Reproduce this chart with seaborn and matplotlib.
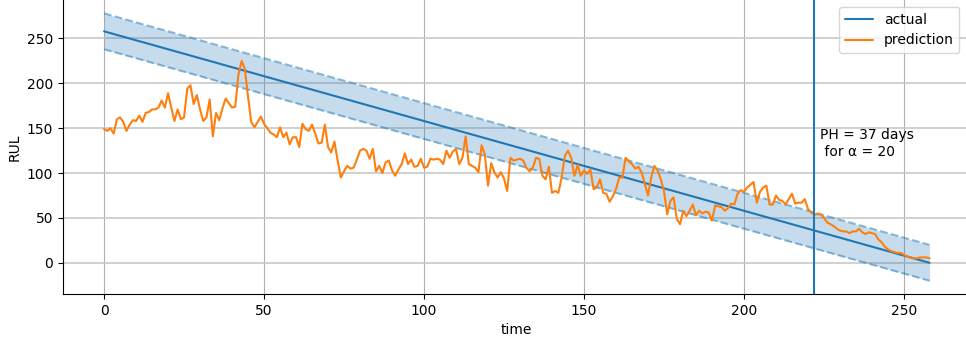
import numpy as np
import pandas as pd
import seaborn as sns
import matplotlib.pyplot as plt

# time axis and true remaining useful life
time = list(range(259))
actual = [258 - t for t in time]

# predicted RUL
prediction = [
    149, 147, 150, 144, 160, 162, 157, 147, 154, 159,
    158, 164, 157, 167, 168, 171, 171, 173, 181, 173,
    189, 173, 158, 171, 160, 162, 194, 198, 177, 187,
    171, 158, 162, 182, 141, 167, 159, 172, 183, 178,
    173, 174, 210, 225, 216, 185, 157, 151, 157, 163,
    155, 150, 145, 143, 140, 151, 140, 145, 132, 140,
    140, 129, 155, 149, 147, 154, 144, 133, 134, 154,
    129, 123, 135, 114, 95, 102, 108, 105, 106, 115,
    125, 127, 125, 116, 127, 102, 108, 100, 112, 114,
    103, 97, 104, 110, 122, 110, 115, 107, 108, 116,
    106, 107, 116, 115, 116, 115, 110, 125, 117, 124,
    127, 110, 117, 141, 110, 108, 106, 101, 131, 121,
    86, 111, 101, 95, 101, 94, 80, 117, 114, 115,
    116, 114, 106, 102, 106, 117, 116, 97, 93, 107,
    78, 80, 78, 95, 119, 125, 117, 97, 109, 97,
    103, 99, 104, 82, 84, 93, 78, 77, 68, 74,
    82, 95, 95, 117, 113, 110, 105, 107, 101, 88,
    75, 95, 108, 103, 93, 80, 54, 69, 73, 49,
    43, 58, 52, 58, 65, 53, 58, 55, 57, 56,
    47, 64, 63, 62, 58, 61, 66, 65, 77, 81,
    79, 84, 87, 90, 67, 79, 84, 86, 65, 65,
    75, 70, 69, 65, 71, 77, 66, 67, 67, 71,
    60, 56, 54, 54, 54, 50, 45, 43, 41, 38,
    36, 35, 35, 33, 35, 35, 38, 34, 32, 34,
    33, 32, 26, 23, 18, 15, 13, 12, 11, 11,
    9, 7, 6, 5, 5, 6, 6, 6, 5,
]

alpha = 20
ph_time = 222
ph_label = 'PH = 37 days\n for α = 20'

df = pd.DataFrame({'time': time, 'actual': actual, 'prediction': prediction})
df['upper'] = df['actual'] + alpha
df['lower'] = df['actual'] - alpha

sns.set_style('ticks')
plt.rcParams['font.family'] = ['DejaVu Sans']
plt.rcParams.update({'text.color': 'black', 'axes.labelcolor': 'black',
                     'xtick.color': 'black', 'ytick.color': 'black',
                     'axes.edgecolor': 'black'})

fig, ax = plt.subplots(figsize=(9.66, 3.42), dpi=100)
fig.subplots_adjust(left=0.065, right=1.005, top=1.0, bottom=0.14)

ax.fill_between(df['time'], df['lower'], df['upper'], color='#1f77b4', alpha=0.25, linewidth=0)
ax.plot(df['time'], df['upper'], '--', color='#1f77b4', alpha=0.5)
ax.plot(df['time'], df['lower'], '--', color='#1f77b4', alpha=0.5)

sns.lineplot(data=df, x='time', y='actual', color='#1f77b4', label='actual', ax=ax)
sns.lineplot(data=df, x='time', y='prediction', color='#ff7f0e', label='prediction', ax=ax)

ax.axvline(ph_time, color='#1f77b4')
ax.text(ph_time + 1.8, 133, ph_label, va='center', ha='left', fontsize=10)

ax.set_xlabel('time')
ax.set_ylabel('RUL')
ax.set_yticks([0, 50, 100, 150, 200, 250])
ax.set_xticks([0, 50, 100, 150, 200, 250])
ax.xaxis.grid(True, color='#b0b0b0', linewidth=0.8)
ax.yaxis.grid(True, color='#c8c8c8', linewidth=1.2)
ax.set_axisbelow(True)
sns.despine(ax=ax)
ax.legend(loc='upper right', bbox_to_anchor=(0.995, 1.0))

plt.savefig('out.png', dpi=100)
